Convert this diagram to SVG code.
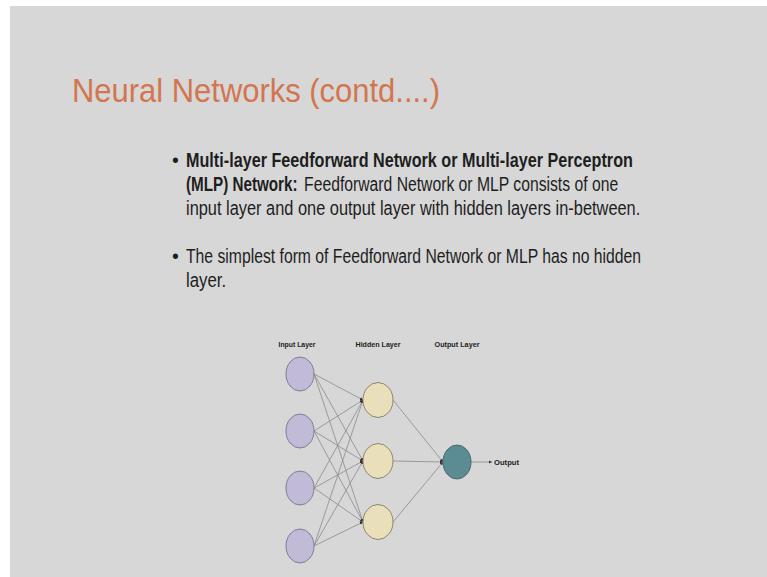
<svg xmlns="http://www.w3.org/2000/svg" width="767" height="577" viewBox="0 0 767 577">
  <style>
    .title { font-family: "Liberation Sans", Arial, sans-serif; font-size: 34px; fill: #d2764f; }
    .body { font-family: "Liberation Sans", Arial, sans-serif; font-size: 19.5px; fill: #1e1e1e; }
    .b { font-weight: bold; }
    .lbl { font-family: "Liberation Sans", Arial, sans-serif; font-size: 8px; font-weight: bold; fill: #222; }
    .in { fill: #c2bbd8; stroke: #807a98; stroke-width: 1; }
    .hid { fill: #e9e0bb; stroke: #8c8668; stroke-width: 1; }
    .out { fill: #5b8c94; stroke: #46676c; stroke-width: 1; }
    .edge { stroke: #8a8a8a; stroke-width: 0.8; fill: none; marker-end: url(#arr); }
  </style>
  <defs>
    <marker id="arr" viewBox="0 0 6 6" refX="6" refY="3" markerWidth="4" markerHeight="4" orient="auto" markerUnits="strokeWidth">
      <path d="M0,0 L6,3 L0,6 z" fill="#333"/>
    </marker>
  </defs>

  <!-- slide background -->
  <rect x="0" y="0" width="767" height="577" fill="#ffffff"/>
  <rect x="10" y="6" width="757" height="571" fill="#d7d7d7"/>

  <!-- heading -->
  <text class="title" x="72" y="102" textLength="368" lengthAdjust="spacingAndGlyphs">Neural Networks (contd....)</text>

  <!-- bullet list -->
  <g id="bullets">
    <text class="body" x="172" y="167">•</text>
    <text class="body" x="172" y="263">•</text>
    <!-- condensed body text -->
    <g transform="translate(186,0) scale(0.82,1)">
      <text class="body b" x="0" y="167" textLength="545" lengthAdjust="spacingAndGlyphs">Multi-layer Feedforward Network or Multi-layer Perceptron</text>
      <text class="body b" x="0" y="191" textLength="136" lengthAdjust="spacingAndGlyphs">(MLP) Network:</text>
      <text class="body" x="144" y="191" textLength="383" lengthAdjust="spacingAndGlyphs">Feedforward Network or MLP consists of one</text>
      <text class="body" x="0" y="215" textLength="554" lengthAdjust="spacingAndGlyphs">input layer and one output layer with hidden layers in-between.</text>
      <text class="body" x="0" y="263" textLength="555" lengthAdjust="spacingAndGlyphs">The simplest form of Feedforward Network or MLP has no hidden</text>
      <text class="body" x="0" y="287" textLength="49" lengthAdjust="spacingAndGlyphs">layer.</text>
    </g>
  </g>

  <!-- layer captions -->
  <g id="captions">
    <text class="lbl" x="297" y="347" text-anchor="middle" textLength="37" lengthAdjust="spacingAndGlyphs">Input Layer</text>
    <text class="lbl" x="378" y="347" text-anchor="middle" textLength="45" lengthAdjust="spacingAndGlyphs">Hidden Layer</text>
    <text class="lbl" x="457" y="347" text-anchor="middle" textLength="45" lengthAdjust="spacingAndGlyphs">Output Layer</text>
  </g>

  <!-- connections -->
  <g id="connectors">
    <line class="edge" x1="314" y1="374" x2="363" y2="400"/>
    <line class="edge" x1="314" y1="374" x2="363" y2="461"/>
    <line class="edge" x1="314" y1="374" x2="363" y2="522"/>
    <line class="edge" x1="314" y1="431" x2="363" y2="400"/>
    <line class="edge" x1="314" y1="431" x2="363" y2="461"/>
    <line class="edge" x1="314" y1="431" x2="363" y2="522"/>
    <line class="edge" x1="314" y1="488" x2="363" y2="400"/>
    <line class="edge" x1="314" y1="488" x2="363" y2="461"/>
    <line class="edge" x1="314" y1="488" x2="363" y2="522"/>
    <line class="edge" x1="314" y1="546" x2="363" y2="400"/>
    <line class="edge" x1="314" y1="546" x2="363" y2="461"/>
    <line class="edge" x1="314" y1="546" x2="363" y2="522"/>
    <line class="edge" x1="393" y1="400" x2="443" y2="462"/>
    <line class="edge" x1="393" y1="461" x2="443" y2="462"/>
    <line class="edge" x1="393" y1="522" x2="443" y2="462"/>
    <line class="edge" x1="471" y1="462" x2="492" y2="462"/>
  </g>

  <!-- input layer -->
  <g id="in1"><ellipse class="in" cx="300" cy="374" rx="14" ry="17"/></g>
  <g id="in2"><ellipse class="in" cx="300" cy="431" rx="14" ry="17"/></g>
  <g id="in3"><ellipse class="in" cx="300" cy="488" rx="14" ry="17"/></g>
  <g id="in4"><ellipse class="in" cx="300" cy="546" rx="14" ry="17"/></g>

  <!-- hidden layer -->
  <g id="h1"><ellipse class="hid" cx="378" cy="400" rx="15" ry="17.5"/></g>
  <g id="h2"><ellipse class="hid" cx="378" cy="461" rx="15" ry="17.5"/></g>
  <g id="h3"><ellipse class="hid" cx="378" cy="522" rx="15" ry="17.5"/></g>

  <!-- output layer -->
  <g id="out"><ellipse class="out" cx="457" cy="462" rx="14" ry="17"/></g>
  <g id="out-label"><text class="lbl" x="494" y="465" textLength="25" lengthAdjust="spacingAndGlyphs">Output</text></g>
</svg>
